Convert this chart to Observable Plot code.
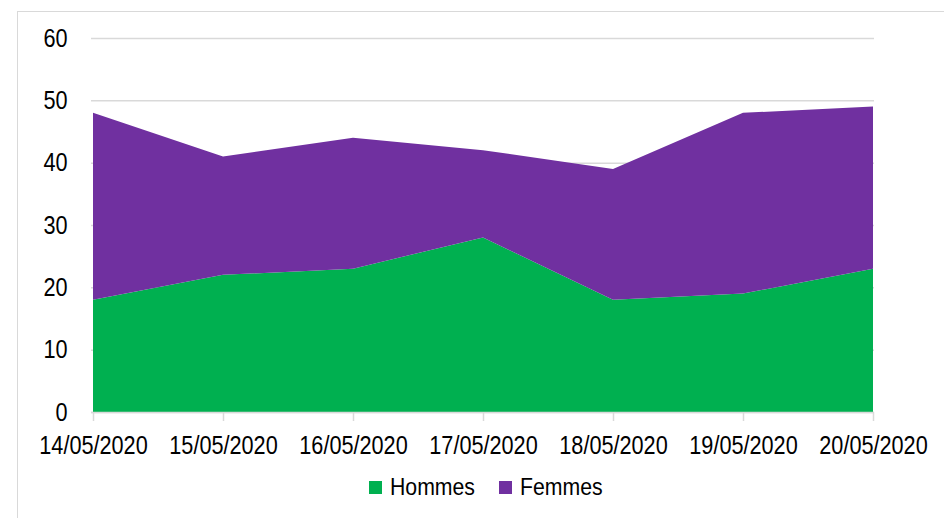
<!DOCTYPE html>
<html><head><meta charset="utf-8">
<script src="https://cdn.jsdelivr.net/npm/d3@7"></script>
<script src="https://cdn.jsdelivr.net/npm/@observablehq/plot@0.6"></script>
<style>
body{margin:0;background:#fff;font-family:"Liberation Sans",Arial,sans-serif;}
#wrap{position:relative;width:944px;height:518px;overflow:hidden;background:#fff;}
#frame{position:absolute;left:17px;top:11px;width:940px;height:530px;border:1.5px solid #d9d9d9;box-sizing:border-box;pointer-events:none;}
#chart{position:absolute;left:0;top:0;}
#legend{position:absolute;left:0;top:473px;width:944px;height:30px;font-size:24px;color:#000;white-space:nowrap;}
#legend .sw{position:absolute;top:8px;width:13px;height:13px;}
#legend span{position:absolute;top:0;line-height:28px;transform:scaleX(0.885);transform-origin:left center;}
</style></head>
<body>
<div id="wrap">
  <div id="chart"></div>
  <div id="legend"></div>
  <div id="frame"></div>
</div>
<script>
const dates = ["14/05/2020","15/05/2020","16/05/2020","17/05/2020","18/05/2020","19/05/2020","20/05/2020"];
const series = ["Hommes","Femmes"];
const colors = ["#00b050","#7030a0"];
const hommes = [18,22,23,28,18,19,23];
const femmes = [30,19,21,14,21,29,26];
const yTicks = [0,10,20,30,40,50,60];

const data = [
  ...dates.map((d,i)=>({date:d, serie:"Hommes", value:hommes[i]})),
  ...dates.map((d,i)=>({date:d, serie:"Femmes", value:femmes[i]}))
];

const chart = Plot.plot({
  width:944, height:470,
  marginLeft:91, marginRight:70, marginTop:38, marginBottom:58,
  style:{fontSize:"25.5px", fontFamily:"'Liberation Sans', Arial, sans-serif", color:"#000", background:"transparent"},
  x:{type:"point", domain:dates, padding:0, label:null},
  y:{domain:[0,60], label:null},
  color:{domain:series, range:colors},
  marks:[
    Plot.gridY(yTicks,{stroke:"#d9d9d9", strokeOpacity:1, strokeWidth:1.5}),
    Plot.areaY(data,{x:"date", y:"value", fill:"serie", z:"serie"}),
    Plot.ruleY([0],{stroke:"#d9d9d9", strokeWidth:1.5}),
    Plot.axisY(yTicks,{tickSize:0, tickPadding:24, fill:"#000", label:null}),
    Plot.axisX(dates,{tickSize:9, tickPadding:14, stroke:"#d9d9d9", strokeWidth:1.5, fill:"#000", label:null})
  ]
});
// narrow the tick labels horizontally, as in the reference
chart.querySelectorAll("text").forEach(t=>{
  const tr = t.getAttribute("transform");
  if (tr) {
    t.setAttribute("transform", tr + " scale(0.85,1)");
  } else {
    const x = +(t.getAttribute("x")||0), y = +(t.getAttribute("y")||0);
    t.removeAttribute("x"); t.removeAttribute("y");
    t.setAttribute("transform", `translate(${x},${y}) scale(0.85,1)`);
  }
});
document.getElementById("chart").appendChild(chart);

const legendX = [369, 499];
const leg = document.getElementById("legend");
series.forEach((s,i)=>{
  const sw = document.createElement("div"); sw.className="sw";
  sw.style.background=colors[i]; sw.style.left = legendX[i] + "px";
  const t = document.createElement("span"); t.textContent=s;
  t.style.left = (legendX[i] + 21) + "px";
  leg.appendChild(sw); leg.appendChild(t);
});
</script>
</body></html>
